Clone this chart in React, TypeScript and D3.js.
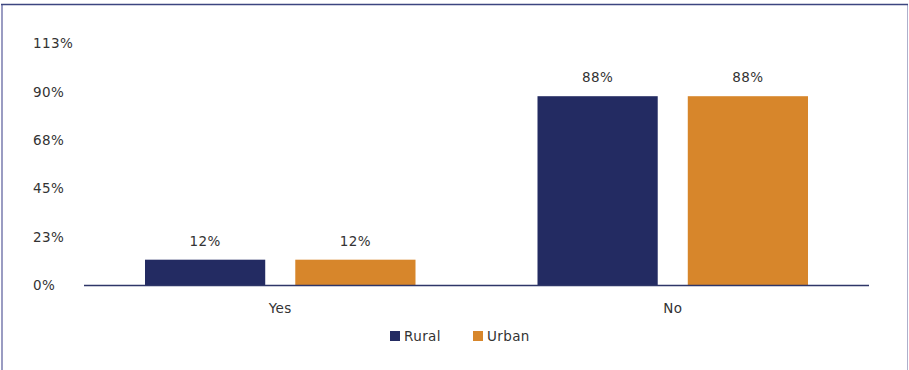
import React from "react";
import * as d3 from "d3";

const categories = ["Yes", "No"];
const seriesNames = ["Rural", "Urban"];
const rural = [12, 88];
const urban = [12, 88];
const yTicks = [0, 22.5, 45, 67.5, 90, 112.5];
const colors = ["#232b62", "#d7862b"];

const W = 909;
const H = 370;
const FONT = "'DejaVu Sans', 'Open Sans', sans-serif";
const FS = 13.5;
const LS = 0.4;

export default function App() {
  const x0 = d3.scaleBand<string>().domain(categories).range([84, 869]).paddingInner(0).paddingOuter(0);
  const x1 = d3
    .scaleBand<string>()
    .domain(seriesNames)
    .range([61, x0.bandwidth() - 61])
    .paddingInner(0.2)
    .paddingOuter(0);
  const y = d3.scaleLinear().domain([0, 112.5]).range([285.5, 43.5]);
  const series = [rural, urban];

  return (
    <svg
      width={W}
      height={H}
      style={{ position: "absolute", left: 0, top: 0, background: "#fff" }}
      fontFamily={FONT}
      letterSpacing={LS}
    >
      {/* frame */}
      <line x1={2} x2={2} y1={4} y2={H} stroke="#9a9cc2" strokeWidth={2} />
      <line x1={907.5} x2={907.5} y1={4} y2={H} stroke="#aeb0cc" strokeWidth={1} />
      <line x1={1} x2={908} y1={4.5} y2={4.5} stroke="#3c4680" strokeWidth={1.5} />

      {/* y tick labels */}
      {yTicks.map((t) => (
        <text key={t} x={33} y={y(t)} dy="0.35em" fontSize={FS} fill="#333">
          {Math.round(t)}%
        </text>
      ))}

      {/* bars */}
      {categories.map((c, ci) => (
        <g key={c} transform={`translate(${x0(c)},0)`}>
          {seriesNames.map((s, si) => {
            const v = series[si][ci];
            const bx = x1(s)!;
            return (
              <g key={s}>
                <rect x={bx} y={y(v)} width={x1.bandwidth()} height={y(0) - y(v)} fill={colors[si]} />
                <text
                  x={bx + x1.bandwidth() / 2}
                  y={y(v) - 14}
                  textAnchor="middle"
                  fontSize={FS}
                  fill="#333"
                >
                  {v}%
                </text>
              </g>
            );
          })}
          <text x={x0.bandwidth() / 2} y={313} textAnchor="middle" fontSize={FS} fill="#333">
            {c}
          </text>
        </g>
      ))}

      {/* x axis line */}
      <line x1={84} x2={869} y1={285.5} y2={285.5} stroke="#2e3668" strokeWidth={1.5} />

      {/* legend */}
      {seriesNames.map((s, i) => {
        const lx = [390, 473][i];
        return (
          <g key={s}>
            <rect x={lx} y={331} width={10} height={10} fill={colors[i]} />
            <text x={lx + 14} y={341} fontSize={FS} fill="#333">
              {s}
            </text>
          </g>
        );
      })}
    </svg>
  );
}
